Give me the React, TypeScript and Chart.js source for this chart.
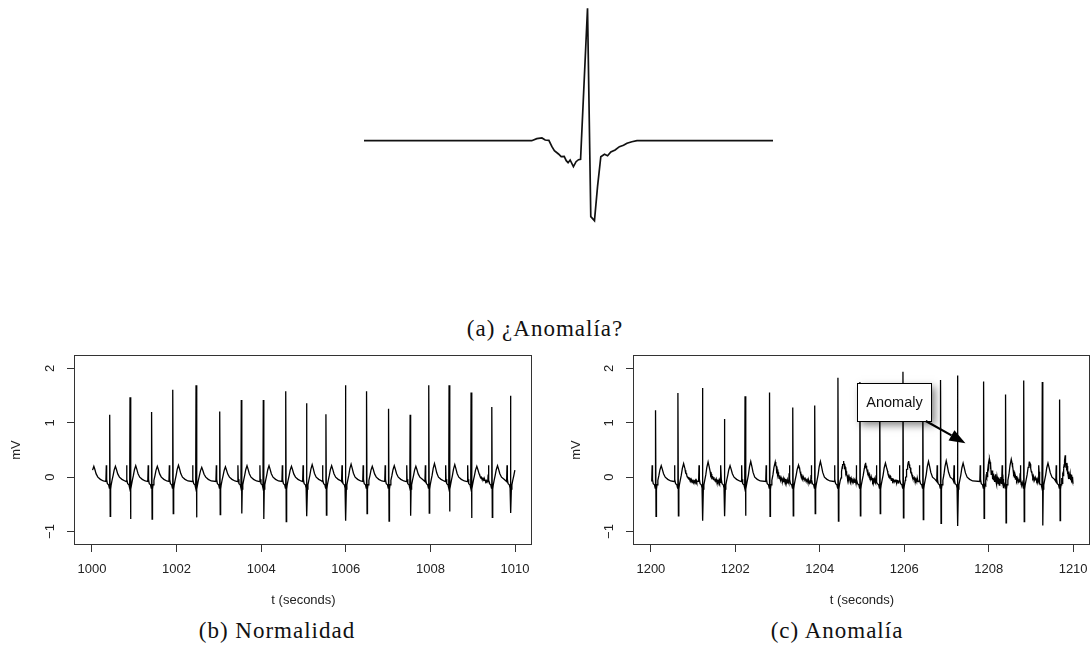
import React, { useEffect, useRef } from "react";
import { Chart, registerables } from "chart.js";

Chart.register(...registerables);

// ---------- (a) single heartbeat ----------
const beatASamples = [0, 82, 84.5, 87, 88.6, 90.4, 91.9, 93.1, 95.1, 96.4, 97.9, 98.9, 99.8, 100.8, 102.4, 103.7, 104.9, 105.9, 109.3, 110.9, 112.7, 114.2, 115.8, 117.6, 119.1, 120.7, 122.8, 124.9, 126.9, 128.6, 131, 133.5, 200];
const beatAValues = [0, 0, 0.02, 0.027, 0.007, 0.004, -0.06, -0.1, -0.133, -0.16, -0.156, -0.2, -0.22, -0.193, -0.26, -0.21, -0.19, -0.186, 1.324, -0.76, -0.8, -0.46, -0.16, -0.136, -0.15, -0.113, -0.093, -0.06, -0.046, -0.026, -0.01, 0, 0];

// ---------- beat shape (offset from R in seconds, mV) ----------
const templateOffsets = [-0.09, -0.08, -0.072, -0.055, -0.025, -0.008, 0, 0.012, 0.022, 0.035, 0.055, 0.08, 0.105, 0.135, 0.16, 0.19, 0.23, 0.29, 0.36];
const templateValues = [-0.08, 0.22, -0.04, -0.12, -0.14, -0.2, 1, -0.7, -0.22, -0.14, -0.06, 0.03, 0.13, 0.2, 0.14, 0.06, 0.0, -0.04, -0.07];
const R_INDEX = 6;
const S_INDEX = 7;
const T_FIRST = 11;
const T_LAST = 15;
const T_REF = 0.2;

// hand-typed jitter pattern for noisy stretches
const jitter = [0.6, -0.4, 0.9, -0.8, 0.3, -0.2, 0.7, -0.9, 0.5, 0.1, -0.6, 0.8, -0.3, 0.4, -0.7, 0.2, 1.0, -0.5, 0.0, -0.9, 0.6, -0.1, 0.8, -0.6, 0.3, -0.4, 0.7, -0.8, 0.1, 0.5, -0.3, 0.9];

// ---------- (b) Normalidad ----------
const beatTimesB = [999.91, 1000.42, 1000.9, 1001.41, 1001.91, 1002.46, 1003.02, 1003.53, 1004.05, 1004.58, 1005.07, 1005.53, 1005.99, 1006.49, 1007.01, 1007.52, 1007.96, 1008.44, 1008.96, 1009.45, 1009.89];
const rPeaksB = [1.3, 1.15, 1.47, 1.2, 1.61, 1.69, 1.21, 1.42, 1.42, 1.58, 1.36, 1.16, 1.69, 1.58, 1.26, 1.15, 1.69, 1.69, 1.56, 1.29, 1.5];
const sTroughsB = [-0.7, -0.72, -0.77, -0.77, -0.67, -0.74, -0.69, -0.67, -0.77, -0.82, -0.72, -0.7, -0.8, -0.67, -0.81, -0.71, -0.66, -0.63, -0.75, -0.74, -0.66];
const tWavesB = [0.2, 0.2, 0.21, 0.2, 0.22, 0.18, 0.19, 0.21, 0.21, 0.2, 0.23, 0.21, 0.24, 0.2, 0.21, 0.2, 0.25, 0.23, 0.2, 0.21, 0.2];
const noiseStartB = [1009.15];
const noiseEndB = [1009.4];
const noiseAmpB = [0.015];
const xTicksB = [1000, 1002, 1004, 1006, 1008, 1010];

// ---------- (c) Anomalía ----------
const beatTimesC = [1200.11, 1200.64, 1201.22, 1201.74, 1202.23, 1202.81, 1203.36, 1203.88, 1204.43, 1204.95, 1205.42, 1205.97, 1206.44, 1206.86, 1207.26, 1207.88, 1208.4, 1208.83, 1209.27, 1209.68];
const rPeaksC = [1.23, 1.55, 1.64, 1.07, 1.49, 1.56, 1.28, 1.32, 1.83, 1.75, 1.6, 1.94, 1.7, 1.79, 1.87, 1.76, 1.52, 1.78, 1.75, 1.43];
const sTroughsC = [-0.72, -0.71, -0.8, -0.72, -0.71, -0.72, -0.71, -0.67, -0.81, -0.71, -0.67, -0.75, -0.78, -0.85, -0.9, -0.76, -0.84, -0.82, -0.89, -0.8];
const tWavesC = [0.21, 0.25, 0.28, 0.21, 0.29, 0.28, 0.22, 0.29, 0.28, 0.25, 0.26, 0.29, 0.29, 0.3, 0.26, 0.29, 0.33, 0.28, 0.26, 0.33];
const noiseStartC = [1200.8, 1201.4, 1202.95, 1203.5, 1204.5, 1205.05, 1205.6, 1206.02, 1207.92, 1208.55, 1208.95, 1209.72];
const noiseEndC = [1201.1, 1201.65, 1203.3, 1203.8, 1204.88, 1205.36, 1205.9, 1206.33, 1208.36, 1208.8, 1209.2, 1210.0];
const noiseAmpC = [0.02, 0.03, 0.04, 0.025, 0.035, 0.04, 0.03, 0.025, 0.09, 0.05, 0.03, 0.08];
const xTicksC = [1200, 1202, 1204, 1206, 1208, 1210];

const yTicks = [-1, 0, 1, 2];

// annotation (data coordinates of chart c)
const annoBox = { x0: 1204.89, x1: 1206.64, y0: 1.035, y1: 1.73 };
const annoArrow = { x0: 1206.51, y0: 1.035, x1: 1207.45, y1: 0.625 };

type Pt = { x: number; y: number };

function buildTrace(
  times: number[], r: number[], s: number[], tw: number[],
  start: number, end: number,
  nStart: number[], nEnd: number[], nAmp: number[]
): Pt[] {
  const pts: Pt[] = [];
  for (let k = 0; k < times.length; k++) {
    const t0 = times[k];
    const nextStart = k + 1 < times.length ? times[k + 1] + templateOffsets[0] : Infinity;
    for (let j = 0; j < templateOffsets.length; j++) {
      const t = t0 + templateOffsets[j];
      if (t >= nextStart) break;
      let v = templateValues[j];
      if (j === R_INDEX) v = r[k];
      else if (j === S_INDEX) v = s[k];
      else if (j >= T_FIRST && j <= T_LAST) v = (v * tw[k]) / T_REF;
      pts.push({ x: t, y: v });
    }
  }
  const step = 0.008;
  let ji = 0;
  const out: Pt[] = [];
  for (let i = 0; i < pts.length; i++) {
    out.push(pts[i]);
    if (i + 1 >= pts.length) break;
    const a = pts[i];
    const b = pts[i + 1];
    for (let w = 0; w < nStart.length; w++) {
      const lo = Math.max(a.x, nStart[w]);
      const hi = Math.min(b.x, nEnd[w]);
      if (hi - lo > step) {
        for (let t = lo + step / 2; t < hi; t += step) {
          const base = a.y + ((b.y - a.y) * (t - a.x)) / (b.x - a.x);
          out.push({ x: t, y: base + jitter[ji++ % jitter.length] * nAmp[w] });
        }
      }
    }
  }
  return out.filter((p) => p.x >= start - 1e-9 && p.x <= end + 1e-9);
}

const AXIS_FONT = "'Liberation Sans', Arial, Helvetica, sans-serif";
const fmt = (v: number) => (v < 0 ? "\u2212" + Math.abs(v) : String(v));

const frameBox = {
  id: "frameBox",
  afterDraw(chart: any) {
    const { ctx, chartArea: a } = chart;
    ctx.save();
    ctx.strokeStyle = "#333";
    ctx.lineWidth = 1;
    ctx.strokeRect(a.left - 0.5, a.top - 0.5, a.right - a.left, a.bottom - a.top + 1);
    ctx.restore();
  },
};

const yLabels = {
  id: "yLabels",
  afterDraw(chart: any) {
    const { ctx, chartArea: a } = chart;
    const ys = chart.scales.y;
    ctx.save();
    ctx.fillStyle = "#222";
    ctx.font = `13px ${AXIS_FONT}`;
    ctx.textAlign = "center";
    ctx.textBaseline = "middle";
    yTicks.forEach((v) => {
      const py = ys.getPixelForValue(v);
      ctx.save();
      ctx.translate(a.left - 25, py);
      ctx.rotate(-Math.PI / 2);
      ctx.fillText(fmt(v), 0, 0);
      ctx.restore();
    });
    ctx.restore();
  },
};

const annotation = {
  id: "anomalyNote",
  afterDatasetsDraw(chart: any) {
    const { ctx } = chart;
    const xs = chart.scales.x;
    const ys = chart.scales.y;
    const bx0 = Math.round(xs.getPixelForValue(annoBox.x0)) + 0.5;
    const bx1 = Math.round(xs.getPixelForValue(annoBox.x1)) + 0.5;
    const by0 = Math.round(ys.getPixelForValue(annoBox.y1)) + 0.5;
    const by1 = Math.round(ys.getPixelForValue(annoBox.y0)) + 0.5;
    ctx.save();
    ctx.shadowColor = "rgba(0,0,0,0.5)";
    ctx.shadowBlur = 8;
    ctx.shadowOffsetX = 3;
    ctx.shadowOffsetY = 3;
    ctx.fillStyle = "#fff";
    ctx.fillRect(bx0, by0, bx1 - bx0, by1 - by0);
    ctx.restore();
    ctx.save();
    ctx.strokeStyle = "#000";
    ctx.lineWidth = 1;
    ctx.strokeRect(bx0, by0, bx1 - bx0, by1 - by0);
    ctx.fillStyle = "#111";
    ctx.font = `14.5px ${AXIS_FONT}`;
    ctx.textAlign = "center";
    ctx.textBaseline = "middle";
    ctx.fillText("Anomaly", (bx0 + bx1) / 2, (by0 + by1) / 2);
    // arrow
    const ax0 = xs.getPixelForValue(annoArrow.x0);
    const ay0 = ys.getPixelForValue(annoArrow.y0);
    const ax1 = xs.getPixelForValue(annoArrow.x1);
    const ay1 = ys.getPixelForValue(annoArrow.y1);
    const ang = Math.atan2(ay1 - ay0, ax1 - ax0);
    const headLen = 16;
    const headW = 6;
    const hx = ax1 - headLen * Math.cos(ang);
    const hy = ay1 - headLen * Math.sin(ang);
    ctx.strokeStyle = "#000";
    ctx.lineWidth = 2.2;
    ctx.beginPath();
    ctx.moveTo(ax0, ay0);
    ctx.lineTo(hx, hy);
    ctx.stroke();
    ctx.fillStyle = "#000";
    ctx.beginPath();
    ctx.moveTo(ax1, ay1);
    ctx.lineTo(hx + headW * Math.sin(ang), hy - headW * Math.cos(ang));
    ctx.lineTo(hx - headW * Math.sin(ang), hy + headW * Math.cos(ang));
    ctx.closePath();
    ctx.fill();
    ctx.restore();
  },
};

function ecgConfig(data: Pt[], xMin: number, xMax: number, xTicks: number[], padRight: number, yWidth: number, extra: any[]) {
  return {
    type: "line" as const,
    data: {
      datasets: [
        {
          data,
          borderColor: "#000",
          borderWidth: 1.3,
          pointRadius: 0,
          tension: 0,
          fill: false,
        },
      ],
    },
    options: {
      animation: false,
      responsive: false,
      devicePixelRatio: 1,
      parsing: false,
      layout: { padding: { top: 10, right: padRight, left: 0, bottom: 0 } },
      plugins: { legend: { display: false }, tooltip: { enabled: false } },
      scales: {
        x: {
          type: "linear",
          min: xMin,
          max: xMax,
          afterBuildTicks: (sc: any) => {
            sc.ticks = xTicks.map((v) => ({ value: v }));
          },
          afterFit: (sc: any) => {
            sc.height = 72;
          },
          grid: { drawOnChartArea: false, drawTicks: true, tickLength: 8, color: "#333" },
          border: { display: false },
          ticks: {
            autoSkip: false,
            maxRotation: 0,
            padding: 10,
            color: "#222",
            font: { family: AXIS_FONT, size: 13 },
            callback: (v: any) => String(v),
          },
          title: {
            display: true,
            text: "t (seconds)",
            color: "#222",
            font: { family: AXIS_FONT, size: 13 },
            padding: { top: 0, bottom: 8 },
          },
        },
        y: {
          type: "linear",
          min: -1.23,
          max: 2.23,
          afterBuildTicks: (sc: any) => {
            sc.ticks = yTicks.map((v) => ({ value: v }));
          },
          afterFit: (sc: any) => {
            sc.width = yWidth;
          },
          grid: { drawOnChartArea: false, drawTicks: true, tickLength: 8, color: "#333" },
          border: { display: false },
          ticks: { display: false },
          title: {
            display: true,
            text: "mV",
            color: "#222",
            font: { family: AXIS_FONT, size: 13 },
            padding: { top: 9, bottom: 0 },
          },
        },
      },
    },
    plugins: [frameBox, yLabels, ...extra],
  };
}

export default function App() {
  const refA = useRef<HTMLCanvasElement>(null);
  const refB = useRef<HTMLCanvasElement>(null);
  const refC = useRef<HTMLCanvasElement>(null);

  useEffect(() => {
    const charts: Chart[] = [];
    if (refA.current) {
      const dataA = beatASamples.map((x, i) => ({ x, y: beatAValues[i] }));
      charts.push(
        new Chart(refA.current, {
          type: "line",
          data: {
            datasets: [
              { data: dataA, borderColor: "#111", borderWidth: 1.7, pointRadius: 0, tension: 0, fill: false },
            ],
          },
          options: {
            animation: false,
            responsive: false,
            devicePixelRatio: 1,
            parsing: false,
            layout: { padding: { left: 6, right: 6, top: 0, bottom: 0 } },
            plugins: { legend: { display: false }, tooltip: { enabled: false } },
            scales: {
              x: { type: "linear", min: 0, max: 200, display: false },
              y: { type: "linear", min: -0.913, max: 1.407, display: false },
            },
          },
        } as any)
      );
    }
    if (refB.current) {
      const dataB = buildTrace(beatTimesB, rPeaksB, sTroughsB, tWavesB, 1000, 1010, noiseStartB, noiseEndB, noiseAmpB);
      charts.push(new Chart(refB.current, ecgConfig(dataB, 999.6, 1010.4, xTicksB, 13, 75, []) as any));
    }
    if (refC.current) {
      const dataC = buildTrace(beatTimesC, rPeaksC, sTroughsC, tWavesC, 1200, 1210, noiseStartC, noiseEndC, noiseAmpC);
      charts.push(new Chart(refC.current, ecgConfig(dataC, 1199.6, 1210.4, xTicksC, 9, 74, [annotation]) as any));
    }
    return () => charts.forEach((c) => c.destroy());
  }, []);

  const caption: React.CSSProperties = {
    position: "absolute",
    width: 400,
    textAlign: "center",
    fontFamily: "'Liberation Serif', 'Times New Roman', serif",
    fontSize: 23,
    letterSpacing: 1,
    lineHeight: "23px",
    color: "#111",
    whiteSpace: "nowrap",
  };

  return (
    <div style={{ position: "absolute", left: 0, top: 0, width: 1090, height: 655, background: "#fff", overflow: "hidden" }}>
      <canvas ref={refA} width={421} height={232} style={{ position: "absolute", left: 358, top: 0 }} />
      <div style={{ ...caption, left: 545 - 200, top: 317 }}>(a) ¿Anomalía?</div>
      <canvas ref={refB} width={545} height={270} style={{ position: "absolute", left: 0, top: 346 }} />
      <canvas ref={refC} width={539} height={270} style={{ position: "absolute", left: 560, top: 346 }} />
      <div style={{ ...caption, left: 277 - 200, top: 619 }}>(b) Normalidad</div>
      <div style={{ ...caption, left: 837 - 200, top: 619 }}>(c) Anomalía</div>
    </div>
  );
}
